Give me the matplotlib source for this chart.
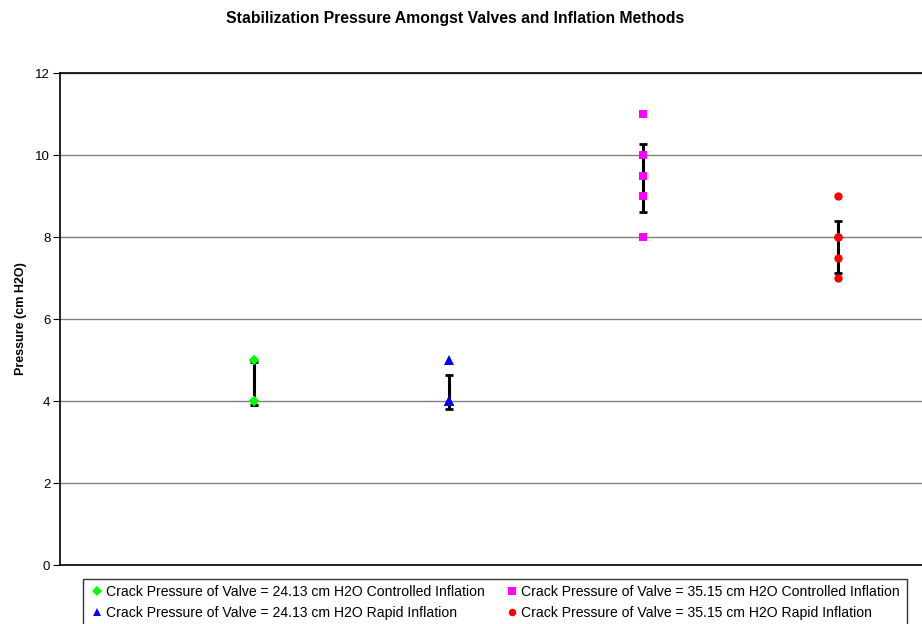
import matplotlib.pyplot as plt

plt.rcParams['font.family'] = ['Liberation Sans', 'DejaVu Sans']

labels = ['Crack Pressure of Valve = 24.13 cm H2O Controlled Inflation',
          'Crack Pressure of Valve = 24.13 cm H2O Rapid Inflation',
          'Crack Pressure of Valve = 35.15 cm H2O Controlled Inflation',
          'Crack Pressure of Valve = 35.15 cm H2O Rapid Inflation']
positions = [1, 2, 3, 4]
green_vals = [5, 4, 5, 4, 4]
blue_vals = [4, 4, 4, 5, 4]
magenta_vals = [11, 10, 9.5, 9, 8]
red_vals = [9, 8, 7.5, 7, 8]
err_mean = [4.42, 4.22, 9.45, 7.76]
err_sd = [0.52, 0.42, 0.83, 0.63]

series = [green_vals, blue_vals, magenta_vals, red_vals]
colors = ['#00ff00', '#0000ff', '#ff00ff', '#ff0000']
markers = ['D', '^', 's', 'o']
sizes = [5.5, 6.5, 6, 6]

fig = plt.figure(figsize=(9.22, 6.24), dpi=100)
ax = fig.add_axes([60 / 922, 1 - 565 / 624, (922 - 60) / 922, (565 - 73) / 624])

handles = []
for pos, vals, c, m, s, lab in zip(positions, series, colors, markers, sizes, labels):
    h, = ax.plot([pos] * len(vals), vals, linestyle='none', marker=m, color=c,
                 markersize=s, markeredgewidth=0, label=lab, zorder=4)
    handles.append(h)

ax.errorbar(positions, err_mean, yerr=err_sd, fmt='none', ecolor='black',
            elinewidth=2.2, capsize=3, capthick=2, zorder=3)

ax.set_xlim(0, (922 - 59.5) / 194.5)
ax.set_ylim(0, 12)
ax.set_yticks(range(0, 13, 2))
ax.set_xticks([])
ax.yaxis.grid(True, color='#808080', linewidth=1)
ax.set_axisbelow(True)
ax.spines['right'].set_visible(False)
for sp in ['left', 'top', 'bottom']:
    ax.spines[sp].set_linewidth(1.2)
    ax.spines[sp].set_color('black')
ax.tick_params(axis='y', direction='out', length=5, labelsize=9.5, pad=2)
ax.set_ylabel('Pressure (cm H2O)', fontsize=9, fontweight='bold', labelpad=6)

fig.text(455 / 922, 1 - 18 / 624, 'Stabilization Pressure Amongst Valves and Inflation Methods',
         ha='center', va='center', fontsize=11.3, fontweight='bold')

leg = fig.legend(handles, labels, ncol=2,
                 loc='upper left', bbox_to_anchor=(83 / 922, 1 - 579 / 624),
                 frameon=True, fancybox=False, edgecolor='black', fontsize=10.1,
                 handlelength=1.1, handletextpad=0.1, columnspacing=1.4,
                 borderpad=0.45, labelspacing=0.5, markerscale=0.9,
                 borderaxespad=0)
leg.get_frame().set_linewidth(1)

fig.savefig('out.png', dpi=100)
